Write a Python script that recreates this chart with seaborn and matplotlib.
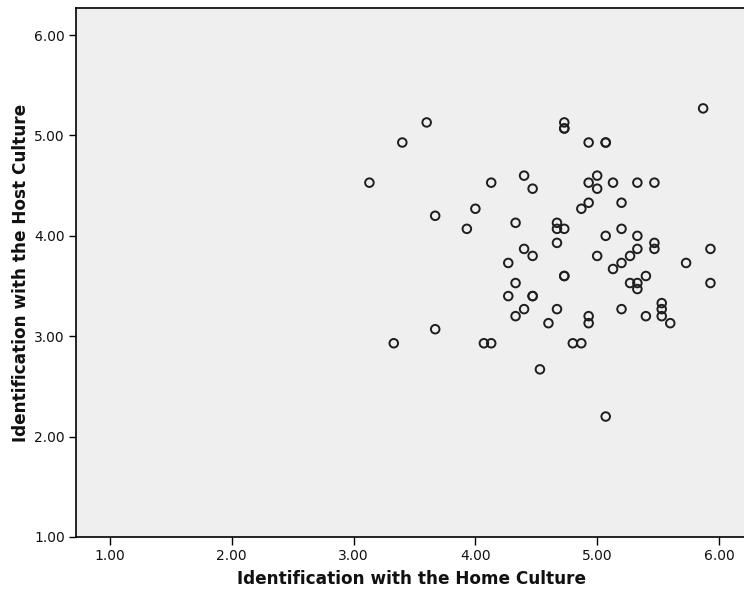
import numpy as np
import pandas as pd
import seaborn as sns
import matplotlib.pyplot as plt

sns.set_theme(style="white")
plt.rcParams["font.family"] = ["Liberation Sans Narrow", "DejaVu Sans"]

# Values (scale steps of 1/15)
home_culture = [3.13, 3.33, 3.40, 3.60, 3.67, 3.67, 3.93, 4.00, 4.07, 4.13,
                4.13, 4.27, 4.27, 4.33, 4.33, 4.33, 4.40, 4.40, 4.40, 4.47,
                4.47, 4.47, 4.47, 4.53, 4.60, 4.67, 4.67, 4.67, 4.67, 4.73,
                4.73, 4.73, 4.73, 4.73, 4.73, 4.80, 4.87, 4.87, 4.93, 4.93,
                4.93, 4.93, 4.93, 5.00, 5.00, 5.00, 5.07, 5.07, 5.07, 5.07,
                5.13, 5.13, 5.20, 5.20, 5.20, 5.20, 5.27, 5.27, 5.33, 5.33,
                5.33, 5.33, 5.33, 5.40, 5.40, 5.47, 5.47, 5.47, 5.53, 5.53,
                5.53, 5.60, 5.73, 5.87, 5.93, 5.93]
host_culture = [4.53, 2.93, 4.93, 5.13, 4.20, 3.07, 4.07, 4.27, 2.93, 2.93,
                4.53, 3.73, 3.40, 4.13, 3.53, 3.20, 4.60, 3.87, 3.27, 4.47,
                3.80, 3.40, 3.40, 2.67, 3.13, 4.13, 4.07, 3.93, 3.27, 5.13,
                5.07, 5.07, 4.07, 3.60, 3.60, 2.93, 4.27, 2.93, 4.93, 4.53,
                4.33, 3.20, 3.13, 4.60, 4.47, 3.80, 4.93, 4.93, 4.00, 2.20,
                4.53, 3.67, 4.33, 4.07, 3.73, 3.27, 3.80, 3.53, 4.53, 4.00,
                3.87, 3.53, 3.47, 3.60, 3.20, 4.53, 3.93, 3.87, 3.33, 3.27,
                3.20, 3.13, 3.73, 5.27, 3.87, 3.53]
ticks = [1, 2, 3, 4, 5, 6]

df = pd.DataFrame({"home": home_culture, "host": host_culture})

fig = plt.figure(figsize=(7.44, 5.94), dpi=100)
ax = fig.add_axes([0.102, 0.096, 0.902, 0.8905])
ax.set_facecolor("#efefef")

sns.scatterplot(data=df, x="home", y="host", ax=ax, s=38,
                facecolors="none", edgecolor="#1e1e1e", linewidth=1.4)

ax.set_xlim(0.72, 6.23)
ax.set_ylim(1.0, 6.27)
ax.set_xticks(ticks)
ax.set_yticks(ticks)
ax.set_xticklabels([f"{t:.2f}" for t in ticks])
ax.set_yticklabels([f"{t:.2f}" for t in ticks])
ax.tick_params(axis="both", direction="out", length=5, width=1, color="black",
               labelsize=10, labelcolor="#111111", pad=3)
ax.tick_params(axis="x", length=6)
ax.xaxis.set_ticks_position("bottom")
ax.yaxis.set_ticks_position("left")

for side in ["left", "top", "bottom"]:
    ax.spines[side].set_color("black")
    ax.spines[side].set_linewidth(1.2)
ax.spines["right"].set_visible(False)

ax.set_xlabel("Identification with the Home Culture", fontsize=12.2,
              fontweight="bold", labelpad=5, color="#111111")
ax.set_ylabel("Identification with the Host Culture", fontsize=12.2,
              fontweight="bold", labelpad=3, color="#111111")

fig.savefig("out.png", dpi=100)
